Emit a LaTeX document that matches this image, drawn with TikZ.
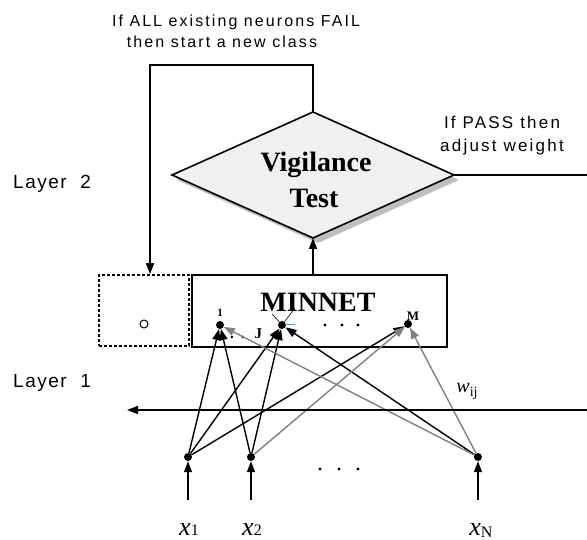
\documentclass[tikz,border=0pt]{standalone}
\usepackage{fontspec}
\setmainfont{Liberation Serif}
\newfontfamily\gul[LetterSpace=8]{Liberation Sans}
\newfontfamily\gulw[LetterSpace=13]{Liberation Sans}
\usetikzlibrary{arrows.meta}
\tikzset{
  line/.style={line width=1.4pt},
  conn/.style={line width=1.4pt,-{Triangle[length=11pt,width=8pt]}},
  wconn/.style={conn,gray},
  dot/.style={circle,fill,inner sep=0pt,minimum size=8pt},
  gtext/.style={font=\gulw\fontsize{16}{20}\selectfont,inner sep=0pt},
  btext/.style={font=\bfseries\fontsize{28}{28}\selectfont,inner sep=0pt},
}
\begin{document}
\begin{tikzpicture}[x=1pt,y=-1pt]
\useasboundingbox (0,0) rectangle (587,540);
\coordinate (dT) at (313,112);
\coordinate (dR) at (454,175);
\coordinate (dB) at (313,238);
\coordinate (dL) at (172,175);
\def\diamondpath{(dT) -- (dR) -- (dB) -- (dL) -- cycle}

% shadow and test diamond
\fill[gray!50] ([shift={(5,5)}]dT) -- ([shift={(5,5)}]dR) -- ([shift={(5,5)}]dB) -- ([shift={(5,5)}]dL) -- cycle;
\filldraw[fill=gray!12,line width=1.6pt,line join=miter] \diamondpath;
\node[btext,anchor=base] (vig) at (316,172) {Vigilance};
\node[btext,anchor=base] (test) at (314,208) {Test};

% boxes of layer 2
\node[draw,line width=1.6pt,minimum width=255pt,minimum height=72pt,inner sep=0pt] (minnet) at (319.5,311) {};
\node[draw,line width=1.8pt,dash pattern=on 3pt off 2pt,minimum width=90pt,minimum height=71pt,inner sep=0pt] (cand) at (144,310.5) {};
\node[circle,draw,line width=1pt,minimum size=8pt,inner sep=0pt] (newc) at (144,324) {};
\node[btext,anchor=base] (mtxt) at (318,312) {MINNET};

\node[dot] (n1) at (220,325) {};
\node[dot] (nJ) at (282,325) {};
\node[dot] (nM) at (408,324) {};
\node[font=\bfseries\fontsize{11}{11}\selectfont,inner sep=0pt] (l1) at (220,313) {1};
\node[font=\bfseries\fontsize{15}{15}\selectfont,inner sep=0pt,anchor=base west] (lJ) at (230,338) {.\hspace{7pt}.\hspace{10pt}J};
\node[font=\bfseries\fontsize{13}{13}\selectfont,inner sep=0pt] (lM) at (413,316) {M};
\foreach \x in {325,342,358}
  \fill (\x,325) circle (1.7pt);
\draw[line width=0.6pt] (nJ) -- ++(-10,-11) (nJ) -- ++(13,-17);
\draw[cyan,line width=0.8pt] ([shift={(3,-1)}]nJ.center) -- ++(10,0);

% inputs of layer 1
\node[dot] (in1) at (188,457) {};
\node[dot] (in2) at (251,457) {};
\node[dot] (inN) at (478,457) {};
\foreach \x in {320,339,358}
  \fill (\x,469) circle (1.7pt);
\coordinate (s1) at (188,500);
\coordinate (s2) at (251,500);
\coordinate (sN) at (478,500);
\foreach \i in {1,2,N}
  \draw[conn] (s\i) -- (in\i);

\node[anchor=base,inner sep=0pt] (lx1) at (189,535) {{\fontsize{26}{26}\selectfont\itshape x}{\fontsize{16}{16}\selectfont 1}};
\node[anchor=base,inner sep=0pt] (lx2) at (252,535) {{\fontsize{26}{26}\selectfont\itshape x}{\fontsize{16}{16}\selectfont 2}};
\node[anchor=base,inner sep=0pt] (lxN) at (481,535) {{\fontsize{26}{26}\selectfont\itshape x}\raisebox{-2pt}{\fontsize{16}{16}\selectfont N}};
\node[anchor=base,inner sep=0pt] (w) at (467,392) {{\fontsize{20}{20}\selectfont\itshape w}\raisebox{-4pt}{\fontsize{14}{14}\selectfont ij}};

% weights
\foreach \a/\b in {in1/n1,in1/nJ,in1/nM,in2/n1,in2/nJ,inN/nJ}
  \draw[conn] (\a) -- (\b);
\foreach \a/\b in {in2/nM,inN/n1,inN/nM}
  \draw[wconn] (\a) -- (\b);

% horizontal line between layers
\coordinate (hR) at (587,410);
\coordinate (hL) at (127,410);
\draw[conn] (hR) -- (hL);

% test connections
\coordinate (loop) at (150,65);
\coordinate (pR) at (587,175);
\draw[conn] (dT) |- (loop) -- (loop |- cand.north);
\draw[line] (dR) -- (pR);
\draw[conn] (dB |- minnet.north) -- (dB);

% texts
\node[gtext,anchor=base] (failA) at (236,27) {If ALL existing neurons FAIL};
\node[gtext,anchor=base] (failB) at (222,48) {then start a new class};
\node[gtext,align=center,font=\gulw\fontsize{17}{23}\selectfont] (pass) at (502,136) {If PASS then\\adjust weight};
\node[gtext,anchor=base west,font=\gul\fontsize{19}{19}\selectfont] (lay2) at (13,189) {Layer\ \ 2};
\node[gtext,anchor=base west,font=\gul\fontsize{19}{19}\selectfont] (lay1) at (13,388) {Layer\ \ 1};
\end{tikzpicture}
\end{document}
